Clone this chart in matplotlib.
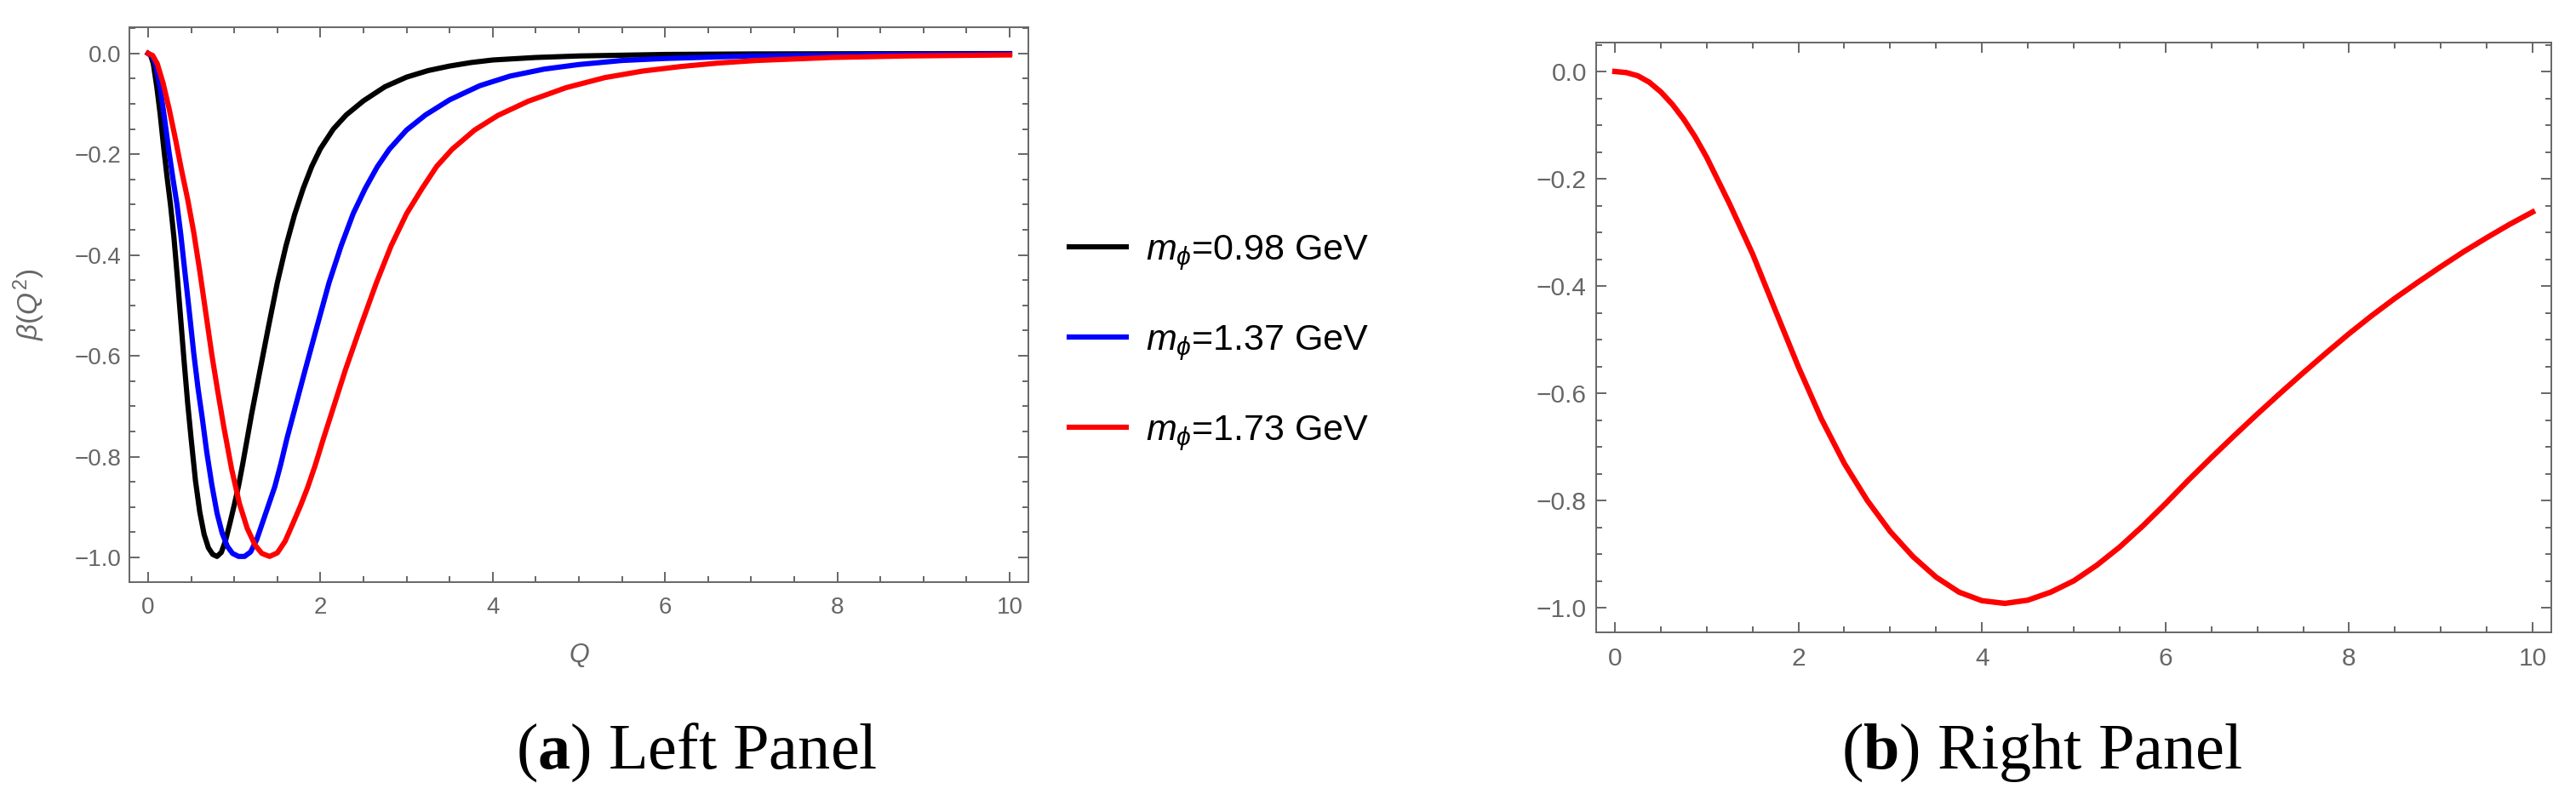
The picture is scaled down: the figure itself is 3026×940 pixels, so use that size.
import matplotlib
matplotlib.use("Agg")
import matplotlib.pyplot as plt
from matplotlib.ticker import MultipleLocator

plt.rcParams['font.family'] = ['Liberation Sans', 'DejaVu Sans']
plt.rcParams['mathtext.fontset'] = 'custom'
plt.rcParams['mathtext.it'] = 'Liberation Sans:italic'
plt.rcParams['mathtext.sf'] = 'Liberation Sans'
plt.rcParams['mathtext.rm'] = 'Liberation Serif'
plt.rcParams['mathtext.bf'] = 'Liberation Serif:bold'

GRAY = '#666666'

# left panel: beta(Q^2) for three masses
q_black = [0.0, 0.03, 0.06, 0.10, 0.14, 0.18, 0.22, 0.26, 0.30, 0.34, 0.38, 0.42, 0.46,
           0.50, 0.55, 0.60, 0.65, 0.70, 0.75, 0.80, 0.85, 0.90, 0.95, 1.00, 1.05, 1.10,
           1.15, 1.20, 1.30, 1.40, 1.50, 1.60, 1.70, 1.80, 1.90, 2.00, 2.15, 2.30, 2.50,
           2.75, 3.00, 3.25, 3.50, 3.75, 4.00, 4.50, 5.00, 6.00, 7.00, 8.50, 10.0]
b_black = [0.0, -0.004, -0.020, -0.065, -0.120, -0.185, -0.245, -0.300, -0.365, -0.445, -0.530,
           -0.615, -0.695, -0.765, -0.848, -0.910, -0.954, -0.981, -0.994, -0.998, -0.990, -0.966,
           -0.932, -0.896, -0.858, -0.813, -0.765, -0.717, -0.628, -0.540, -0.455, -0.382, -0.320,
           -0.268, -0.224, -0.189, -0.150, -0.122, -0.094, -0.066, -0.047, -0.034, -0.025, -0.018,
           -0.013, -0.008, -0.005, -0.002, -0.001, -0.0005, -0.0003]

q_blue = [0.0, 0.04, 0.085, 0.14, 0.19, 0.24, 0.29, 0.335, 0.38, 0.43, 0.48, 0.53, 0.58,
          0.63, 0.68, 0.74, 0.80, 0.86, 0.92, 0.98, 1.05, 1.12, 1.19, 1.26, 1.33, 1.40,
          1.47, 1.54, 1.61, 1.68, 1.82, 1.96, 2.10, 2.24, 2.38, 2.52, 2.66, 2.80, 3.00,
          3.22, 3.50, 3.85, 4.20, 4.60, 5.00, 5.50, 6.00, 7.00, 8.50, 10.0]
b_blue = [0.0, -0.004, -0.020, -0.068, -0.128, -0.192, -0.250, -0.299, -0.360, -0.438, -0.515,
          -0.595, -0.665, -0.725, -0.790, -0.856, -0.912, -0.952, -0.978, -0.992, -0.998, -0.998,
          -0.989, -0.965, -0.930, -0.895, -0.860, -0.815, -0.765, -0.720, -0.630, -0.542, -0.455,
          -0.382, -0.318, -0.268, -0.225, -0.190, -0.152, -0.122, -0.092, -0.064, -0.045, -0.031,
          -0.022, -0.014, -0.010, -0.005, -0.002, -0.001]

q_red = [0.0, 0.053, 0.106, 0.176, 0.247, 0.32, 0.39, 0.46, 0.53, 0.60, 0.67, 0.74, 0.81,
         0.88, 0.97, 1.06, 1.15, 1.24, 1.32, 1.41, 1.50, 1.59, 1.68, 1.77, 1.85, 1.94,
         2.03, 2.12, 2.29, 2.47, 2.65, 2.82, 3.00, 3.18, 3.35, 3.53, 3.79, 4.06, 4.41,
         4.85, 5.30, 5.74, 6.18, 6.62, 7.06, 7.94, 8.80, 10.0]
b_red = [0.0, -0.004, -0.020, -0.060, -0.112, -0.172, -0.233, -0.290, -0.355, -0.432, -0.515,
         -0.598, -0.672, -0.742, -0.825, -0.893, -0.942, -0.975, -0.992, -0.998, -0.991, -0.968,
         -0.933, -0.897, -0.862, -0.817, -0.767, -0.719, -0.628, -0.540, -0.455, -0.382, -0.318,
         -0.268, -0.224, -0.190, -0.152, -0.123, -0.095, -0.068, -0.048, -0.035, -0.026, -0.019,
         -0.014, -0.008, -0.005, -0.003]

labels = [r'$m_{\phi}$=0.98 GeV', r'$m_{\phi}$=1.37 GeV', r'$m_{\phi}$=1.73 GeV']

# right panel
q_right = [0.0, 0.125, 0.25, 0.375, 0.5, 0.625, 0.75, 0.875, 1.0, 1.25, 1.5, 1.75, 2.0,
           2.25, 2.5, 2.75, 3.0, 3.25, 3.5, 3.75, 4.0, 4.25, 4.5, 4.75, 5.0, 5.25, 5.5,
           5.75, 6.0, 6.25, 6.5, 6.75, 7.0, 7.25, 7.5, 7.75, 8.0, 8.25, 8.5, 8.75, 9.0,
           9.25, 9.5, 9.75, 10.0]
b_right = [0.0, -0.002, -0.008, -0.020, -0.038, -0.061, -0.089, -0.122, -0.160, -0.247, -0.340,
           -0.446, -0.551, -0.648, -0.731, -0.800, -0.858, -0.905, -0.943, -0.971, -0.987, -0.992,
           -0.986, -0.971, -0.950, -0.921, -0.887, -0.848, -0.806, -0.762, -0.720, -0.679, -0.639,
           -0.600, -0.562, -0.525, -0.489, -0.455, -0.423, -0.393, -0.364, -0.336, -0.310, -0.285,
           -0.262]

W, H = 3026, 940
fig = plt.figure(figsize=(W / 100, H / 100), dpi=100)


def frame_axes(ax, fs):
    for s in ax.spines.values():
        s.set_color(GRAY)
        s.set_linewidth(1.4)
    ax.xaxis.set_major_locator(MultipleLocator(2))
    ax.xaxis.set_minor_locator(MultipleLocator(0.5))
    ax.yaxis.set_major_locator(MultipleLocator(0.2))
    ax.yaxis.set_minor_locator(MultipleLocator(0.05))
    ax.tick_params(which='both', direction='in', top=True, right=True,
                   color=GRAY, labelcolor=GRAY, width=1.4, labelsize=fs)
    ax.tick_params(which='major', length=8.5)
    ax.tick_params(which='minor', length=5)
    ax.yaxis.set_major_formatter(plt.FuncFormatter(lambda v, p: f'{v:.1f}'.replace('-', '\u2212')))


ax1 = fig.add_axes([152 / W, 1 - 684 / H, 1056 / W, 652 / H])
l1, = ax1.plot(q_black, b_black, color='black', lw=4.4)
l2, = ax1.plot(q_blue, b_blue, color='blue', lw=4.4)
l3, = ax1.plot(q_red, b_red, color='red', lw=4.4)
ax1.set_xlim(-0.217, 10.217)
ax1.set_ylim(-1.049, 0.052)
frame_axes(ax1, 20)
ax1.tick_params(axis='x', pad=12)
ax1.tick_params(axis='y', pad=7)

fig.text(34 / W, 1 - 358 / H, r'$\beta\mathsf{(}Q^{\mathsf{2}}\mathsf{)}$', rotation=90,
         ha='center', va='center', color=GRAY, fontsize=24)
fig.text(680 / W, 1 - 770 / H, r'$Q$', ha='center', va='center', color=GRAY, fontsize=22)

fig.legend([l1, l2, l3], labels, loc='center left', bbox_to_anchor=(1256 / W, 1 - 403 / H),
           frameon=False, borderpad=0, borderaxespad=0, handlelength=1.55,
           handletextpad=0.53, labelspacing=1.4, fontsize=31)

ax2 = fig.add_axes([1875 / W, 1 - 743 / H, 1122 / W, 693 / H])
ax2.plot(q_right, b_right, color='red', lw=4.6)
ax2.set_xlim(-0.204, 10.204)
ax2.set_ylim(-1.046, 0.054)
frame_axes(ax2, 21.5)
ax2.tick_params(axis='x', pad=12)
ax2.tick_params(axis='y', pad=8)

fig.text(818 / W, 1 - 903 / H, r'($\mathbf{a}$) Left Panel', ha='center', va='baseline',
         family='Liberation Serif', fontsize=55)
fig.text(2399 / W, 1 - 903 / H, r'($\mathbf{b}$) Right Panel', ha='center', va='baseline',
         family='Liberation Serif', fontsize=55)

fig.savefig('out.png', dpi=100)
